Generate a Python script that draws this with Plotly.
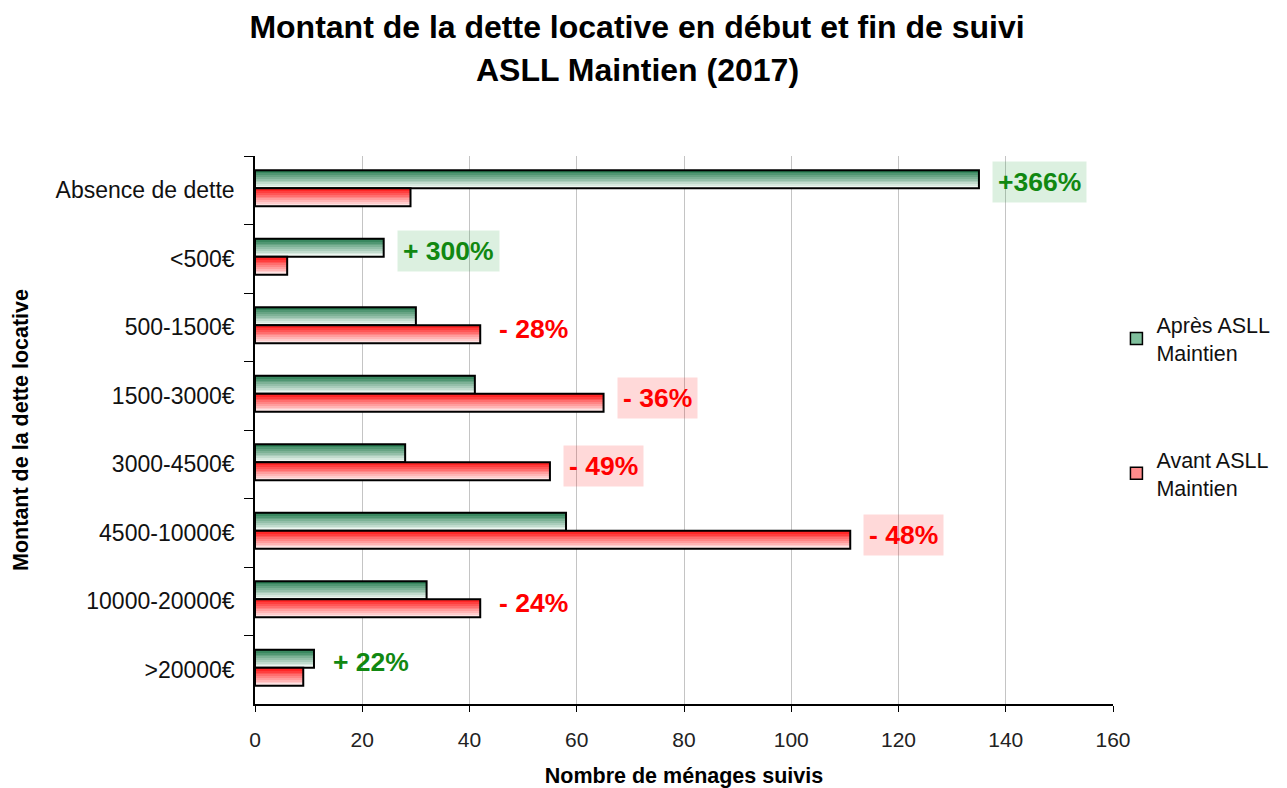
import plotly.graph_objects as go

categories = ["Absence de dette", "<500€", "500-1500€", "1500-3000€",
              "3000-4500€", "4500-10000€", "10000-20000€", ">20000€"]
apres = [135, 24, 30, 41, 28, 58, 32, 11]
avant = [29, 6, 42, 65, 55, 111, 42, 9]
variation_labels = ["+366%", "+ 300%", "- 28%", "- 36%", "- 49%", "- 48%", "- 24%", "+ 22%"]
label_boxed = [True, True, False, True, True, True, False, False]

series_apres = "Après ASLL<br>Maintien"
series_avant = "Avant ASLL<br>Maintien"

FONT = "Liberation Sans, Arial, sans-serif"
N_STRIPS = 10
BAR_W = 0.262

# page body has an 8px margin: figure is sized/offset to compensate
W, H = 1279, 780
OFF = 8


def lerp(c1, c2, t):
    return "rgb(%d,%d,%d)" % tuple(round(a + (b - a) * t) for a, b in zip(c1, c2))


fig = go.Figure()


def add_gradient_bar(values, off0, top, bottom, name, legend_color):
    sw = BAR_W / N_STRIPS
    for i in range(N_STRIPS):
        fig.add_trace(go.Bar(
            x=values, y=categories, orientation="h",
            offset=off0 + i * sw, width=sw * 1.02,
            marker=dict(color=lerp(top, bottom, i / (N_STRIPS - 1)), line=dict(width=0)),
            showlegend=False, hoverinfo="skip"))
    fig.add_trace(go.Bar(
        x=values, y=categories, orientation="h",
        offset=off0, width=BAR_W,
        marker=dict(color="rgba(0,0,0,0)", line=dict(color="black", width=2)),
        showlegend=False, name=name))
    fig.add_trace(go.Bar(
        x=[None], y=[None], orientation="h", name=name, legendgroup=name,
        marker=dict(color=legend_color, line=dict(color="black", width=1.5))))


add_gradient_bar(apres, -0.292, (35, 122, 78), (238, 247, 241), series_apres, "#7fbf9c")
add_gradient_bar(avant, -0.030, (255, 15, 15), (255, 228, 228), series_avant, "#ff8c8c")

annotations = []
for cat, a, b, txt, boxed, idx in zip(categories, apres, avant, variation_labels,
                                      label_boxed, range(len(categories))):
    positive = txt.startswith("+")
    color = "#118811" if positive else "#ff0000"
    bg = ("rgba(40,160,60,0.16)" if positive else "rgba(255,0,0,0.15)") if boxed else "rgba(0,0,0,0)"
    annotations.append(dict(
        x=max(a, b), y=idx - 0.12 if positive else idx + 0.03, xref="x", yref="y",
        text="<b>%s</b>" % txt, showarrow=False, xanchor="left", yanchor="middle",
        xshift=13, font=dict(family=FONT, size=26.5, color=color),
        bgcolor=bg, borderpad=5))

plot_top, plot_h = 156 - OFF, 548
annotations.append(dict(
    text="<b>ASLL Maintien (2017)</b>", x=(637 - OFF - 247) / 858,
    y=1 + (plot_top - (70 - OFF)) / plot_h,
    xref="paper", yref="paper", showarrow=False, xanchor="center", yanchor="middle",
    font=dict(family=FONT, size=32, color="black")))

fig.update_layout(
    width=W, height=H,
    paper_bgcolor="white", plot_bgcolor="white",
    barmode="overlay",
    margin=dict(l=247, r=174, t=148, b=84, autoexpand=False),
    title=dict(text="<b>Montant de la dette locative en début et fin de suivi</b>",
               x=(637 - OFF) / W, xanchor="center", y=1 - (27 - OFF) / H, yanchor="middle",
               font=dict(family=FONT, size=32, color="black")),
    font=dict(family=FONT, size=22, color="#111"),
    legend=dict(x=1.004, xanchor="left", y=0.73, yanchor="top",
                font=dict(family=FONT, size=21.5, color="#111"),
                tracegroupgap=76, itemwidth=30, bgcolor="rgba(0,0,0,0)"),
    annotations=annotations,
    xaxis=dict(range=[0, 160], dtick=20, showgrid=True, gridcolor="#c4c4c4", gridwidth=1,
               showline=True, linecolor="black", linewidth=1.5,
               ticks="outside", ticklen=6, tickcolor="black",
               ticklabelstandoff=10,
               tickfont=dict(family=FONT, size=21, color="#222"),
               zeroline=False, automargin=False,
               title=dict(text="<b>Nombre de ménages suivis</b>", standoff=18,
                          font=dict(family=FONT, size=21.5, color="black"))),
    yaxis=dict(autorange="reversed", type="category", showgrid=False,
               showline=True, linecolor="black", linewidth=1.5,
               ticks="outside", ticklen=9, tickcolor="black", tickson="boundaries",
               ticklabelstandoff=14, automargin=False,
               tickfont=dict(family=FONT, size=23, color="#111"),
               title=dict(text="<b>Montant de la dette locative</b>", standoff=21,
                          font=dict(family=FONT, size=21.5, color="black"))),
)

fig.write_html("out.html")
